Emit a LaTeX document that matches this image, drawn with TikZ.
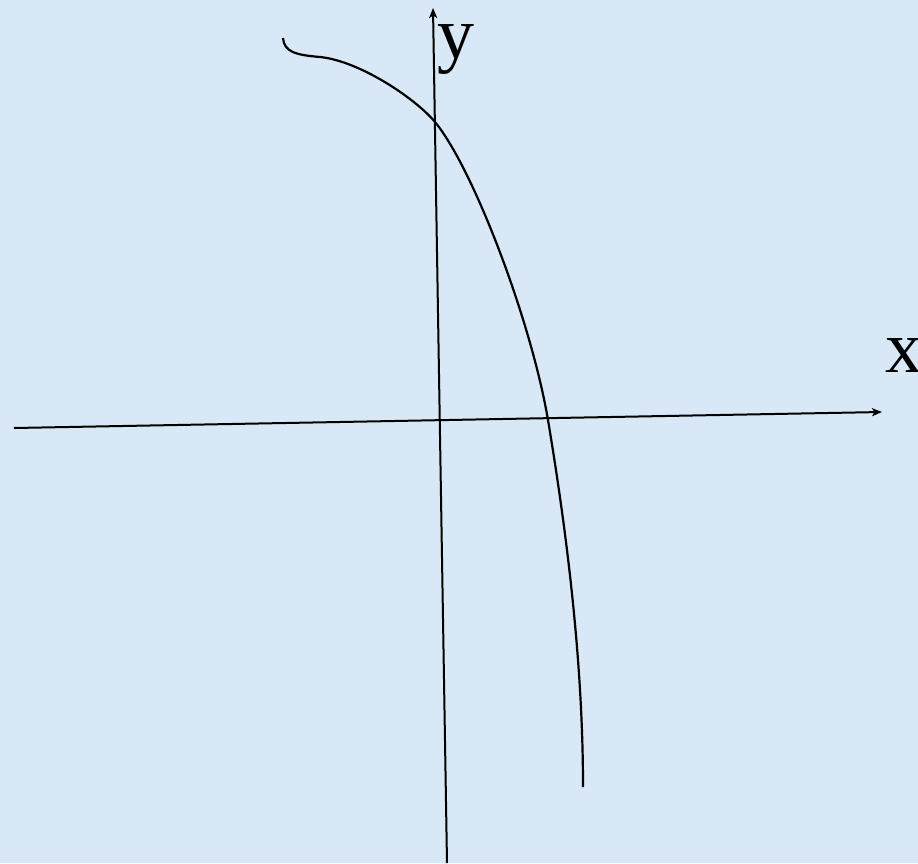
\documentclass[tikz,border=0pt]{standalone}
\usepackage{fontspec}
\setmainfont{Liberation Serif}
\usetikzlibrary{arrows.meta}
\definecolor{bgblue}{RGB}{216,232,246}
\tikzset{
  axis/.style={line width=2pt, -{Stealth[length=10pt,width=8pt,inset=2.5pt]}},
  curveline/.style={line width=2.2pt},
  axlabel/.style={font=\fontsize{74}{74}\selectfont, inner sep=0pt}
}
\begin{document}
\begin{tikzpicture}[x=1pt,y=-1pt]
\fill[bgblue] (0,0) rectangle (918,863);
\useasboundingbox (0,0) rectangle (918,863);
\coordinate (xs) at (14,428);
\coordinate (xe) at (882,412);
\coordinate (ys) at (447,863);
\coordinate (ye) at (433,8);
\draw[axis] (xs) -- (xe);
\draw[axis] (ys) -- (ye);
\node[axlabel, anchor=base] (ylab) at (456,58) {y};
\node[axlabel, anchor=base] (xlab) at (904,372) {x};
\coordinate (ca) at (283,38);
\coordinate (cb) at (320,57);
\coordinate (cc) at (435,122);
\coordinate (cd) at (548,420);
\coordinate (ce) at (583,787);
\draw[curveline] (ca) .. controls (284,52) and (296,55) .. (cb)
  .. controls (360,61) and (416,99) .. (cc)
  .. controls (473,168) and (531,320) .. (cd)
  .. controls (568,540) and (583,667) .. (ce);
\end{tikzpicture}
\end{document}
